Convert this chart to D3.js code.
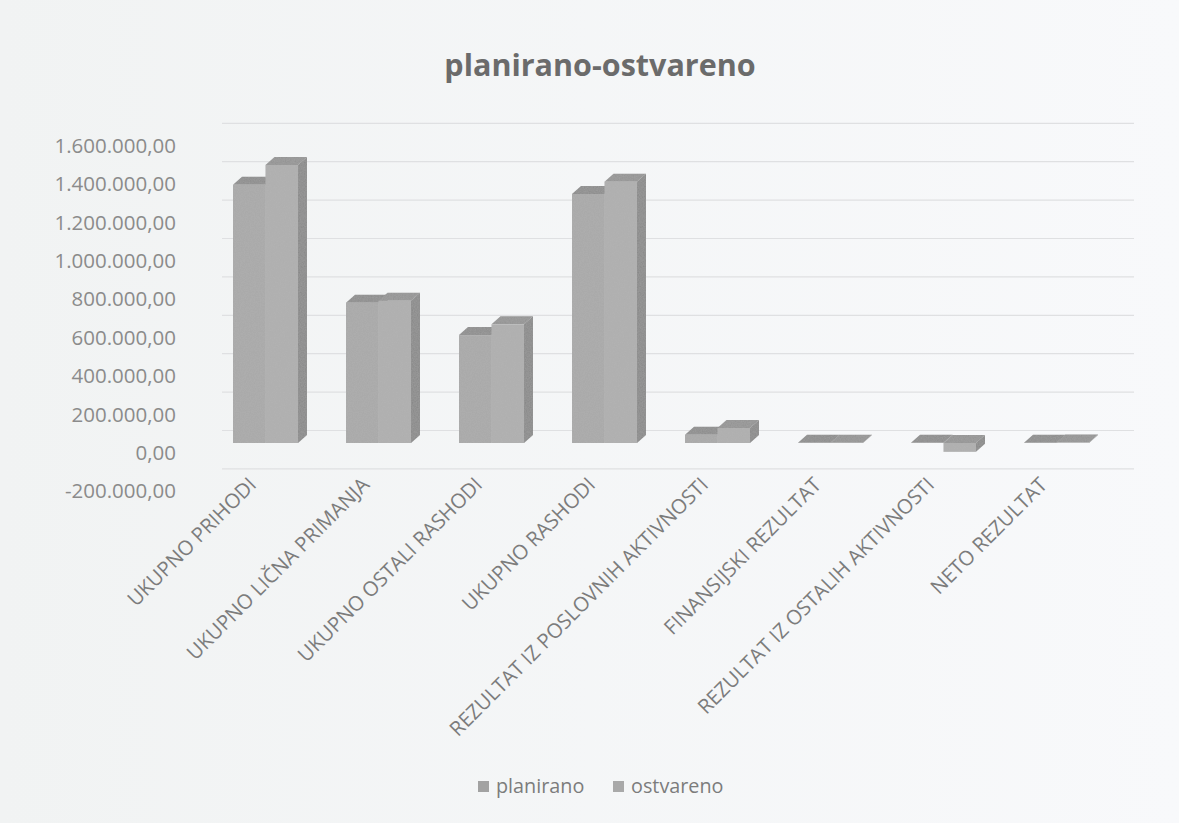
<!DOCTYPE html>
<html>
<head>
<meta charset="utf-8">
<script src="https://cdn.jsdelivr.net/npm/d3@7"></script>
<style>
  html, body { margin: 0; padding: 0; background: #f4f5f6; }
  svg { display: block; font-family: "Open Sans", "DejaVu Sans", sans-serif; }
</style>
</head>
<body>
<div id="chart"></div>
<script>
// values
const categories = [
    'UKUPNO PRIHODI',
    'UKUPNO LIČNA PRIMANJA',
    'UKUPNO OSTALI RASHODI',
    'UKUPNO RASHODI',
    'REZULTAT IZ POSLOVNIH AKTIVNOSTI',
    'FINANSIJSKI REZULTAT',
    'REZULTAT IZ OSTALIH AKTIVNOSTI',
    'NETO REZULTAT'
];
const seriesNames = ['planirano', 'ostvareno'];
const planirano = [1345000, 731000, 562000, 1297000, 43000, 1000, 1000, 1000];
const ostvareno = [1448000, 741000, 618000, 1361000, 78000, 1500, -46000, 2000];
const yTicks = [-200000, 0, 200000, 400000, 600000, 800000, 1000000, 1200000, 1400000, 1600000];

const width = 1179, height = 823;
const depth = { dx: 9, dy: 8 };      // 3d offset of the bar tops
const wall = { dx: 13, dy: 13 };     // back wall offset for gridlines

const colors = {
    planirano: { front: '#a8a8a8', top: '#8a8a8a', side: '#848484', legend: '#a2a2a2' },
    ostvareno: { front: '#aeaeae', top: '#929292', side: '#878787', legend: '#a9a9a9' }
};

const locale = d3.formatLocale({ decimal: ',', thousands: '.', grouping: [3], currency: ['', ''], minus: '-' });
const fmt = locale.format(',.2f');

const svg = d3.select('#chart')
    .append('svg')
    .attr('width', width)
    .attr('height', height);

const defs = svg.append('defs');
const grad = defs.append('linearGradient').attr('id', 'bg').attr('x1', 0).attr('x2', 1);
grad.append('stop').attr('offset', 0).attr('stop-color', '#f1f3f3');
grad.append('stop').attr('offset', 1).attr('stop-color', '#f8f9fb');

const grain = defs.append('filter').attr('id', 'grain').attr('x', 0).attr('y', 0).attr('width', 1).attr('height', 1);
grain.append('feTurbulence').attr('type', 'fractalNoise').attr('baseFrequency', 0.8).attr('numOctaves', 2).attr('result', 'noise');
grain.append('feColorMatrix').attr('in', 'noise').attr('type', 'matrix')
    .attr('values', '0 0 0 0 0.5  0 0 0 0 0.5  0 0 0 0 0.5  0 0 0 0.35 0').attr('result', 'gn');
grain.append('feComposite').attr('in', 'gn').attr('in2', 'SourceGraphic').attr('operator', 'in').attr('result', 'gm');
const merge = grain.append('feMerge');
merge.append('feMergeNode').attr('in', 'SourceGraphic');
merge.append('feMergeNode').attr('in', 'gm');

svg.append('rect').attr('width', width).attr('height', height).attr('fill', 'url(#bg)');

const x = d3.scaleBand()
    .domain(categories)
    .range([209, 1113])
    .paddingInner(0.425)
    .paddingOuter(0.2125);

const xs = d3.scaleBand()
    .domain(seriesNames)
    .range([0, x.bandwidth()]);

const y = d3.scaleLinear()
    .domain([-200000, 1600000])
    .range([443 + 38.4, 443 - 8 * 38.4]);

// gridlines on the back wall
const grid = svg.append('g')
    .attr('transform', `translate(${x.range()[0] + wall.dx},${-wall.dy})`)
    .call(d3.axisRight(y).tickValues(yTicks).tickSize(x.range()[1] - x.range()[0] + 8).tickFormat(''));
grid.select('.domain').remove();
grid.selectAll('line').attr('stroke', '#dfe0e2').attr('stroke-width', 1.2);

// value axis labels
const yAxis = svg.append('g')
    .attr('transform', 'translate(176,10)')
    .call(d3.axisLeft(y).tickValues(yTicks).tickSize(0).tickPadding(0).tickFormat(fmt));
yAxis.select('.domain').remove();
yAxis.selectAll('text')
    .attr('fill', '#8b8b8b')
    .style('font-size', '20.5px')
    .style('font-family', '"Open Sans", sans-serif');

// bars
const data = categories.map((c, i) => ({
    category: c,
    values: [
        { series: 'planirano', value: planirano[i] },
        { series: 'ostvareno', value: ostvareno[i] }
    ]
}));

const groups = svg.append('g').selectAll('g')
    .data(data)
    .join('g')
    .attr('transform', d => `translate(${x(d.category)},0)`);

const bars = groups.selectAll('g')
    .data(d => d.values)
    .join('g');

bars.each(function (d) {
    const g = d3.select(this);
    const c = colors[d.series];
    const x0 = xs(d.series);
    const w = xs.bandwidth();
    const yTop = y(Math.max(0, d.value));
    const yBot = y(Math.min(0, d.value));
    const { dx, dy } = depth;
    // right side
    g.append('path')
        .attr('d', `M${x0 + w},${yTop}L${x0 + w + dx},${yTop - dy}L${x0 + w + dx},${yBot - dy}L${x0 + w},${yBot}Z`)
        .attr('fill', c.side)
        .attr('filter', 'url(#grain)');
    // top
    g.append('path')
        .attr('d', `M${x0},${yTop}L${x0 + dx},${yTop - dy}L${x0 + w + dx},${yTop - dy}L${x0 + w},${yTop}Z`)
        .attr('fill', c.top)
        .attr('filter', 'url(#grain)');
    // front
    g.append('rect')
        .attr('x', x0)
        .attr('y', yTop)
        .attr('width', w)
        .attr('height', Math.max(0, yBot - yTop))
        .attr('fill', c.front)
        .attr('filter', 'url(#grain)');
});

// category labels
svg.append('g').selectAll('text')
    .data(categories)
    .join('text')
    .attr('transform', d => `translate(${x(d) + x.bandwidth() / 2 - 8},486) rotate(-45)`)
    .attr('text-anchor', 'end')
    .attr('fill', '#7c7c7c')
    .style('font-size', '20.3px')
    .text(d => d);

// title
svg.append('text')
    .attr('x', 600)
    .attr('y', 76)
    .attr('text-anchor', 'middle')
    .attr('fill', '#6b6b6b')
    .style('font-size', '30.5px')
    .style('font-weight', 'bold')
    .text('planirano-ostvareno');

// legend
const legendX = [478, 613];
const legend = svg.append('g').selectAll('g')
    .data(seriesNames)
    .join('g')
    .attr('transform', (d, i) => `translate(${legendX[i]},781)`);
legend.append('rect')
    .attr('width', 11)
    .attr('height', 11)
    .attr('fill', d => colors[d].legend);
legend.append('text')
    .attr('x', 18)
    .attr('y', 12)
    .attr('fill', '#7c7c7c')
    .style('font-size', '19.8px')
    .text(d => d);
</script>
</body>
</html>
